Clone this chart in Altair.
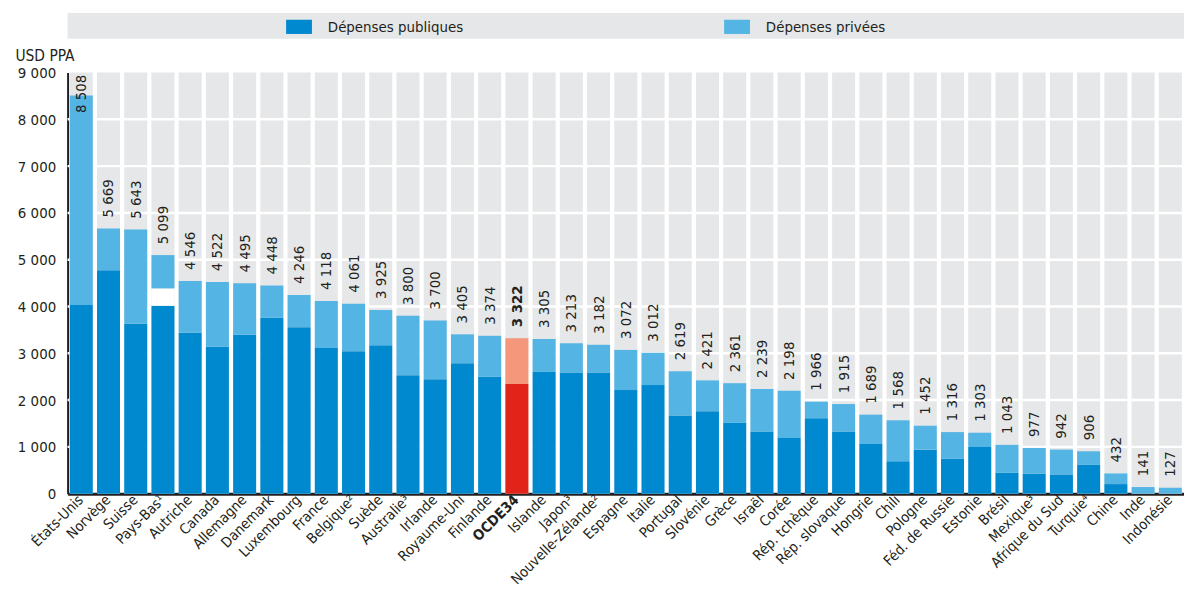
import altair as alt
import pandas as pd

pays = ["États-Unis", "Norvège", "Suisse", "Pays-Bas¹", "Autriche", "Canada", "Allemagne",
        "Danemark", "Luxembourg", "France", "Belgique²", "Suède", "Australie³", "Irlande",
        "Royaume-Uni", "Finlande", "OCDE34", "Islande", "Japon³", "Nouvelle-Zélande²",
        "Espagne", "Italie", "Portugal", "Slovénie", "Grèce", "Israël", "Corée",
        "Rép. tchèque", "Rép. slovaque", "Hongrie", "Chili", "Pologne", "Féd. de Russie",
        "Estonie", "Brésil", "Mexique³", "Afrique du Sud", "Turquie⁴", "Chine", "Inde",
        "Indonésie"]
total = [8508, 5669, 5643, 5099, 4546, 4522, 4495, 4448, 4246, 4118, 4061, 3925, 3800, 3700,
         3405, 3374, 3322, 3305, 3213, 3182, 3072, 3012, 2619, 2421, 2361, 2239, 2198, 1966,
         1915, 1689, 1568, 1452, 1316, 1303, 1043, 977, 942, 906, 432, 141, 127]
publiques = [4033, 4776, 3630, 4018, 3439, 3142, 3396, 3757, 3559, 3113, 3042, 3170, 2533, 2448,
             2788, 2498, 2342, 2604, 2590, 2590, 2214, 2320, 1670, 1762, 1514, 1330, 1189, 1613,
             1330, 1061, 693, 941, 750, 998, 446, 425, 410, 623, 205, 0, 0]
# blank (non-classified) segment between public and private spending
ecart = [0, 0, 0, 369] + [0] * 37
grille = [1000, 2000, 3000, 4000, 5000, 6000, 7000, 8000]
graduations = [0, 1000, 2000, 3000, 4000, 5000, 6000, 7000, 8000, 9000]

PUB, PRIV = "Dépenses publiques", "Dépenses privées"
BLUE, LBLUE, RED, SALMON, GRAY = "#0089cf", "#54b4e4", "#e2231a", "#f4977a", "#e6e7e8"
INK = "#231f20"
F = "DejaVu Sans Condensed, Roboto, sans-serif"
W, H = 1124, 424

rows = []
for p, t, pu, ga in zip(pays, total, publiques, ecart):
    rows.append(dict(pays=p, serie=PUB, v=pu, k=0))
    rows.append(dict(pays=p, serie="écart", v=ga, k=1))
    rows.append(dict(pays=p, serie=PRIV, v=t - pu - ga, k=2))
df = pd.DataFrame(rows)
df_t = pd.DataFrame(dict(pays=pays, total=total,
                         label=[f"{t:,}".replace(",", " ") for t in total]))
df_g = pd.DataFrame(dict(g=grille))
df_p = pd.DataFrame(dict(pays=pays))

yscale = alt.Scale(domain=[0, 9000], nice=False)
xax = alt.Axis(title=None, labelAngle=315, labelAlign="right", labelBaseline="middle",
               labelFontSize=14.5, labelFont=F, labelColor=INK, ticks=False,
               domainColor=INK, domainWidth=3, labelPadding=4, labelOverlap=False,
               labelFontWeight={"condition": {"test": "datum.value == 'OCDE34'", "value": "bold"},
                                "value": "normal"})
yax = alt.Axis(title="USD PPA", values=graduations,
               labelExpr="replace(format(datum.value, ','), ',', ' ')",
               grid=False, ticks=False, domainColor=INK, domainWidth=2,
               labelFontSize=15, labelFont=F, labelColor=INK, labelPadding=12,
               titleAngle=0, titleAlign="left", titleX=-53, titleY=-12,
               titleBaseline="alphabetic", titleFontSize=15.5, titleFont=F,
               titleFontWeight="normal", titleColor=INK, minExtent=60, maxExtent=60)
X = alt.X("pays:N", sort=pays, axis=xax,
          scale=alt.Scale(paddingInner=0.155, paddingOuter=0.08))

band = alt.Chart(pd.DataFrame(dict(a=[0]))).mark_rect(color=GRAY).encode(
    x=alt.value(0), x2=alt.value(W), y=alt.value(-60), y2=alt.value(-34))

bg = alt.Chart(df_p).mark_bar(color=GRAY).encode(
    x=X, y=alt.value(0), y2=alt.value(H))

grid = alt.Chart(df_g).mark_rule(color="white", strokeWidth=2.5).encode(
    y=alt.Y("g:Q", scale=yscale, axis=yax))

color = alt.Color(
    "serie:N",
    scale=alt.Scale(domain=[PUB, PRIV], range=[BLUE, LBLUE]),
    legend=alt.Legend(orient="none", legendX=220, legendY=-59, direction="horizontal",
                      title=None, symbolType="M-1,-0.55L1,-0.55L1,0.55L-1,0.55Z",
                      symbolSize=676, symbolStrokeWidth=0, labelFontSize=15, labelFont=F,
                      labelColor=INK, labelOffset=16, columnPadding=262, padding=0),
    condition=[
        {"test": "datum.serie == 'écart'", "value": "#ffffff"},
        {"test": "datum.pays == 'OCDE34' && datum.serie == '" + PUB + "'", "value": RED},
        {"test": "datum.pays == 'OCDE34' && datum.serie == '" + PRIV + "'", "value": SALMON},
    ])

bars = alt.Chart(df).mark_bar().encode(
    x=X, y=alt.Y("v:Q", stack="zero", scale=yscale, axis=yax),
    color=color, order=alt.Order("k:Q"))


def labels(test, weight):
    return alt.Chart(df_t).transform_filter(test).transform_calculate(
        ly="min(datum.total, 7900)").mark_text(
        angle=270, align="left", baseline="middle", dx=11, fontSize=15, font=F,
        color=INK, fontWeight=weight
    ).encode(x=X, y=alt.Y("ly:Q", scale=yscale, axis=yax), text="label:N")


txt_n = labels("datum.pays != 'OCDE34'", "normal")
txt_b = labels("datum.pays == 'OCDE34'", "bold")

chart = alt.layer(band, bg, grid, bars, txt_n, txt_b).properties(
    width=W, height=H,
    padding={"left": 60, "top": 63, "right": 0, "bottom": 95},
    autosize=alt.AutoSizeParams(type="none"),
).configure_view(stroke=None)

chart.save("out.html", embed_options={"renderer": "svg", "actions": False})
